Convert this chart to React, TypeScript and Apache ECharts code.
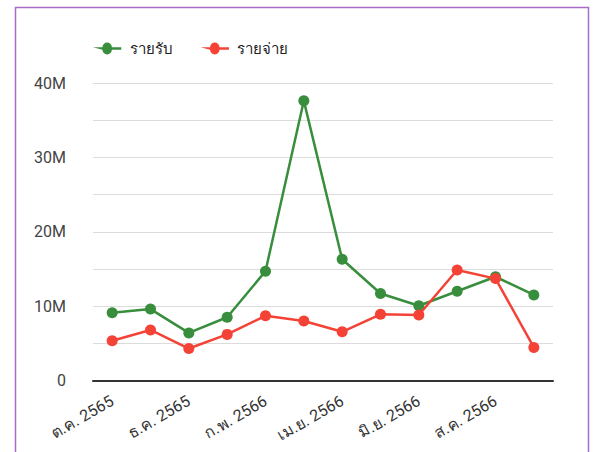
import React, { useEffect, useRef } from "react";
import * as echarts from "echarts";

const categories = [
  "ต.ค. 2565", "พ.ย. 2565", "ธ.ค. 2565", "ม.ค. 2566", "ก.พ. 2566", "มี.ค. 2566",
  "เม.ย. 2566", "พ.ค. 2566", "มิ.ย. 2566", "ก.ค. 2566", "ส.ค. 2566", "ก.ย. 2566",
];
const income = [9.1, 9.6, 6.4, 8.5, 14.7, 37.6, 16.3, 11.7, 10.05, 12.0, 13.95, 11.5].map((v) => v * 1e6);
const expense = [5.35, 6.8, 4.3, 6.2, 8.7, 8.0, 6.55, 8.9, 8.8, 14.85, 13.7, 4.45].map((v) => v * 1e6);
const seriesNames = ["รายรับ", "รายจ่าย"];
const yTickLabels = ["0", "10M", "20M", "30M", "40M"];

export default function App() {
  const ref = useRef<HTMLDivElement>(null);
  useEffect(() => {
    if (!ref.current) return;
    const chart = echarts.init(ref.current, null, { renderer: "svg" });
    const font = "Roboto, 'Noto Sans', sans-serif";
    chart.setOption({
      animation: false,
      textStyle: { fontFamily: font },
      graphic: [
        {
          type: "rect",
          shape: { x: 15.5, y: 7.5, width: 573, height: 470 },
          style: { fill: "none", stroke: "#a86cc6", lineWidth: 1.5 },
          silent: true,
        },
      ],
      legend: {
        left: 93,
        top: 41,
        padding: 0,
        itemWidth: 33,
        itemHeight: 12,
        itemGap: 28,
        icon: "path://M0,4.5 L11,4.5 A5.5,5.5 0 0 1 22,4.5 L33,4.5 L33,7.5 L22,7.5 A5.5,5.5 0 0 1 11,7.5 Z",
        textStyle: { fontSize: 15, color: "#222", fontFamily: font, padding: [0, 0, 0, 1] },
        data: seriesNames,
      },
      grid: { left: 93, right: 40, top: 83, bottom: 71.5, containLabel: false },
      xAxis: {
        type: "category",
        data: categories,
        boundaryGap: true,
        axisLine: { show: true, lineStyle: { color: "#333", width: 2 } },
        axisTick: { show: false },
        axisLabel: {
          interval: 1,
          rotate: 30,
          fontSize: 16,
          color: "#333",
          margin: 19,
          fontFamily: font,
        },
      },
      yAxis: {
        type: "value",
        min: 0,
        max: 40e6,
        interval: 5e6,
        axisLine: { show: false },
        axisTick: { show: false },
        splitLine: { lineStyle: { color: "#dcdcdc", width: 1 } },
        axisLabel: {
          fontSize: 16,
          color: "#444",
          margin: 27,
          fontFamily: font,
          formatter: (v: number) => {
            const i = Math.round(v / 10e6);
            return v % 10e6 === 0 ? yTickLabels[i] : "";
          },
        },
      },
      series: [
        {
          name: seriesNames[0],
          type: "line",
          data: income,
          symbol: "circle",
          symbolSize: 11,
          lineStyle: { width: 2.5, color: "#388e3c" },
          itemStyle: { color: "#388e3c" },
          z: 2,
        },
        {
          name: seriesNames[1],
          type: "line",
          data: expense,
          symbol: "circle",
          symbolSize: 11,
          lineStyle: { width: 2.5, color: "#f44336" },
          itemStyle: { color: "#f44336" },
          z: 3,
        },
      ],
    });
    return () => chart.dispose();
  }, []);
  return (
    <div
      ref={ref}
      style={{ position: "fixed", left: 0, top: 0, width: 593, height: 452, background: "#fff" }}
    />
  );
}
